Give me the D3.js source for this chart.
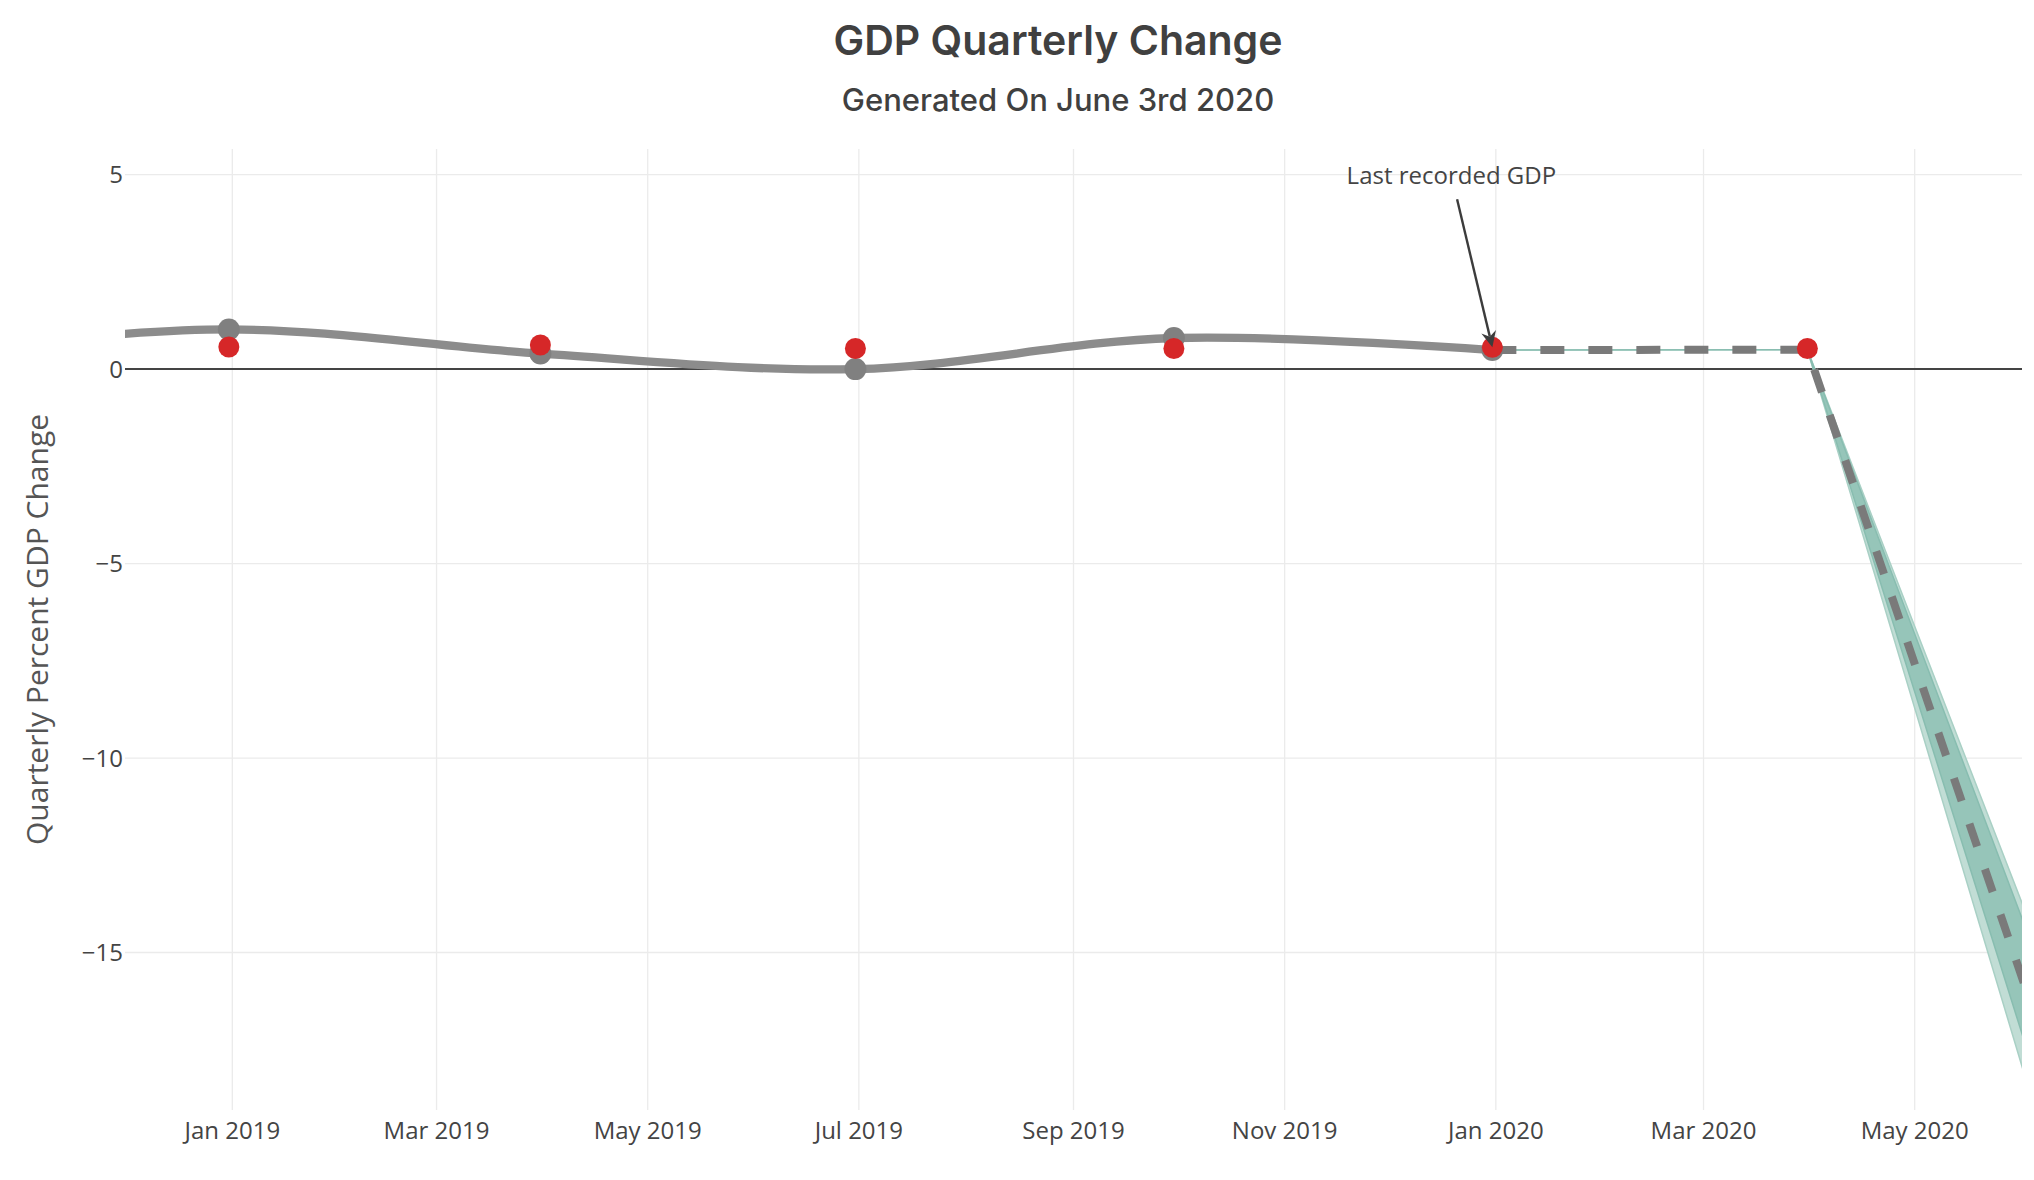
<!DOCTYPE html>
<html><head><meta charset="utf-8">
<script src="https://cdn.jsdelivr.net/npm/d3@7"></script>
<style>body{margin:0;background:#fff;} svg{display:block;}</style>
</head><body><svg id="c" width="2034" height="1180"></svg>
<script>
// ---------- data ----------
const chartTitle = "GDP Quarterly Change";
const chartSubtitle = "Generated On June 3rd 2020";
const yAxisTitle = "Quarterly Percent GDP Change";
const annotationText = "Last recorded GDP";
const annotationDate = "2019-12-31";
const annotationValue = 0.56;

const xDomain = ["2018-12-01", "2020-06-01"];
const yDomain = [-19.05, 5.66];
const xTickDates = ["2019-01-01","2019-03-01","2019-05-01","2019-07-01","2019-09-01","2019-11-01","2020-01-01","2020-03-01","2020-05-01"];
const yTickValues = [5, 0, -5, -10, -15];

// recorded GDP (grey spline)
const actualDates  = ["2018-09-30","2018-12-31","2019-03-31","2019-06-30","2019-09-30","2019-12-31"];
const actualValues = [0.40, 1.02, 0.40, 0.00, 0.80, 0.49];

// predicted (red markers)
const predictedDates  = ["2018-12-31","2019-03-31","2019-06-30","2019-09-30","2019-12-31","2020-03-31"];
const predictedValues = [0.57, 0.62, 0.53, 0.53, 0.56, 0.53];

// forecast (dashed) and confidence bands
const forecastDates  = ["2019-12-31","2020-03-31","2020-06-30"];
const forecastValues = [0.49, 0.50, -23.2];
const outerUpper = [0.49, 0.50, -20.38];
const outerLower = [0.49, 0.50, -26.55];
const innerUpper = [0.49, 0.50, -20.96];
const innerLower = [0.49, 0.50, -25.32];

// ---------- layout ----------
const plot = {left: 125, right: 2022, top: 149, bottom: 1110};
const parse = d3.utcParse("%Y-%m-%d");
const svg = d3.select("#c");

const x = d3.scaleUtc().domain(xDomain.map(parse)).range([plot.left, plot.right]);
const y = d3.scaleLinear().domain(yDomain).range([plot.bottom, plot.top]);

const tickFont = "'Open Sans', 'DejaVu Sans', sans-serif";
const textColor = "#444";

// clip
svg.append("defs").append("clipPath").attr("id", "clip")
  .append("rect").attr("x", plot.left).attr("y", plot.top)
  .attr("width", plot.right - plot.left).attr("height", plot.bottom - plot.top);

// grid lines
const grid = svg.append("g");
grid.selectAll("line.vx").data(xTickDates.map(parse)).join("line")
  .attr("x1", d => x(d)).attr("x2", d => x(d))
  .attr("y1", plot.top).attr("y2", plot.bottom)
  .attr("stroke", "#ebebeb").attr("stroke-width", 1.3);
grid.selectAll("line.hy").data(yTickValues.filter(v => v !== 0)).join("line")
  .attr("x1", plot.left).attr("x2", plot.right)
  .attr("y1", d => y(d)).attr("y2", d => y(d))
  .attr("stroke", "#ebebeb").attr("stroke-width", 1.3);

// x tick labels
svg.append("g").selectAll("text").data(xTickDates.map(parse)).join("text")
  .attr("x", d => x(d)).attr("y", 1139)
  .attr("text-anchor", "middle")
  .attr("font-family", tickFont).attr("font-size", 24).attr("fill", textColor)
  .text(d3.utcFormat("%b %Y"));

// y tick labels
const yFmt = d3.format("d");
svg.append("g").selectAll("text").data(yTickValues).join("text")
  .attr("x", 123).attr("y", d => y(d)).attr("dy", "0.36em")
  .attr("text-anchor", "end")
  .attr("font-family", tickFont).attr("font-size", 24).attr("fill", textColor)
  .text(d => yFmt(d));

// zero line
svg.append("line")
  .attr("x1", plot.left).attr("x2", plot.right)
  .attr("y1", y(0)).attr("y2", y(0))
  .attr("stroke", "#444").attr("stroke-width", 2);

const g = svg.append("g").attr("clip-path", "url(#clip)");

// bands
function bandData(up, lo) {
  return forecastDates.map((d, i) => ({d: parse(d), u: up[i], l: lo[i]}));
}
const area = d3.area().x(d => x(d.d)).y0(d => y(d.l)).y1(d => y(d.u));
g.append("path").datum(bandData(outerUpper, outerLower))
  .attr("d", area).attr("fill", "#c1ddd5").attr("stroke", "#a9d0c5").attr("stroke-width", 1.5);
g.append("path").datum(bandData(innerUpper, innerLower))
  .attr("d", area).attr("fill", "#96c5b9").attr("stroke", "#88bdb0").attr("stroke-width", 1.5);

// recorded GDP spline
const actual = actualDates.map((d, i) => ({d: parse(d), v: actualValues[i]}));
const spline = d3.line().x(d => x(d.d)).y(d => y(d.v)).curve(d3.curveCatmullRom.alpha(0.5));
g.append("path").datum(actual).attr("d", spline)
  .attr("fill", "none").attr("stroke", "#8c8c8c").attr("stroke-width", 8.3);
g.selectAll("circle.act").data(actual).join("circle")
  .attr("cx", d => x(d.d)).attr("cy", d => y(d.v)).attr("r", 11)
  .attr("fill", "#808080");

// forecast dashed line
const forecast = forecastDates.map((d, i) => ({d: parse(d), v: forecastValues[i]}));
g.append("path").datum(forecast)
  .attr("d", d3.line().x(d => x(d.d)).y(d => y(d.v)))
  .attr("fill", "none").attr("stroke", "#7a7a7a").attr("stroke-width", 8)
  .attr("stroke-dasharray", "24,24");

// predicted markers
g.selectAll("circle.pred").data(predictedDates.map((d, i) => ({d: parse(d), v: predictedValues[i]}))).join("circle")
  .attr("cx", d => x(d.d)).attr("cy", d => y(d.v)).attr("r", 10.5)
  .attr("fill", "#d62728");

// annotation
const tipX = x(parse(annotationDate)), tipY = y(annotationValue);
const boxX = tipX - 41, boxY = tipY - 172;
const tailY = boxY + 24;
const tailX = tipX + (boxX - tipX) * (tipY - tailY) / (tipY - boxY);
const ang = Math.atan2(tipY - tailY, tipX - tailX);
const headLen = 16, headW = 7.5, notch = 11;
const ca = Math.cos(ang), sa = Math.sin(ang);
const baseX = tipX - ca * notch, baseY = tipY - sa * notch;
svg.append("line")
  .attr("x1", tailX).attr("y1", tailY).attr("x2", baseX).attr("y2", baseY)
  .attr("stroke", "#3c3c3c").attr("stroke-width", 2.4);
const p = (dx, dy) => [tipX + dx * ca - dy * sa, tipY + dx * sa + dy * ca];
svg.append("path")
  .attr("d", "M" + [p(0,0), p(-headLen, -headW), p(-notch, 0), p(-headLen, headW)].map(q => q.join(",")).join("L") + "Z")
  .attr("fill", "#3c3c3c");
svg.append("text").attr("x", boxX).attr("y", boxY).attr("dy", "0.36em")
  .attr("text-anchor", "middle")
  .attr("font-family", tickFont).attr("font-size", 24).attr("fill", textColor)
  .text(annotationText);

// titles
svg.append("text").attr("x", 1058).attr("y", 55)
  .attr("text-anchor", "middle")
  .attr("font-family", "Inter, Roboto, sans-serif").attr("font-weight", 600)
  .attr("font-size", 41).attr("fill", "#404040")
  .text(chartTitle);
svg.append("text").attr("x", 1058).attr("y", 111)
  .attr("text-anchor", "middle")
  .attr("font-family", "Inter, Roboto, sans-serif").attr("font-weight", 500)
  .attr("font-size", 31).attr("fill", "#404040")
  .text(chartSubtitle);

// y axis title
svg.append("text")
  .attr("transform", `translate(48,${(plot.top + plot.bottom) / 2}) rotate(-90)`)
  .attr("text-anchor", "middle")
  .attr("font-family", tickFont).attr("font-size", 30).attr("fill", "#555")
  .text(yAxisTitle);
</script>
</body></html>
